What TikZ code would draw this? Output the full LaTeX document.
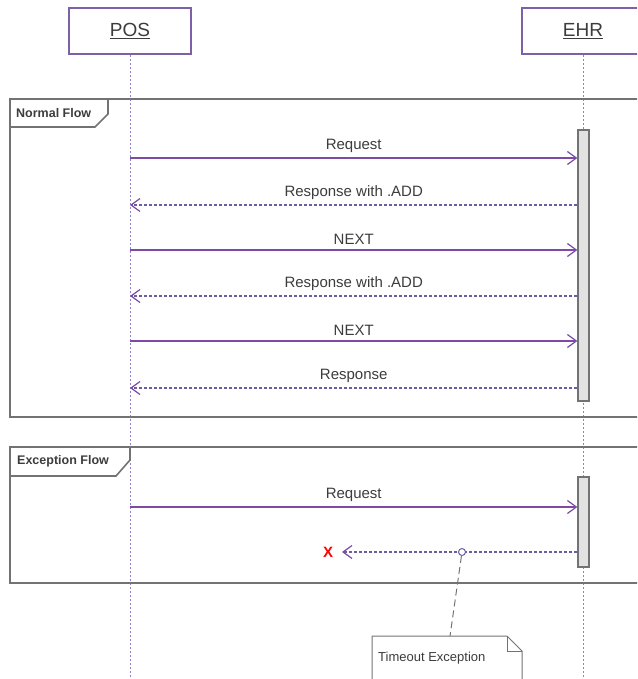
\documentclass[tikz,border=0pt]{standalone}
\usepackage{fontspec}
\setmainfont{Liberation Sans}
\usetikzlibrary{arrows.meta}
\definecolor{lifec}{RGB}{140,130,205}
\definecolor{arrc}{RGB}{125,75,165}
\definecolor{retc}{RGB}{105,95,160}
\definecolor{framec}{RGB}{115,115,115}
\definecolor{hdrc}{RGB}{125,95,170}
\definecolor{txtc}{RGB}{60,60,60}
\definecolor{barfill}{RGB}{226,226,226}
\tikzset{
  hdr/.style={draw=hdrc, line width=1.4pt, fill=white, minimum width=122pt, minimum height=46pt, inner sep=0pt, font=\fontsize{19}{22}\selectfont, text=txtc},
  life/.style={draw=lifec, line width=1pt, dash pattern=on 2pt off 2pt},
  framebox/.style={draw=framec, line width=1.6pt},
  flab/.style={font=\bfseries\fontsize{12.5}{14}\selectfont, text=txtc, anchor=west, inner sep=0pt},
  actbar/.style={draw=framec, line width=1.2pt, fill=barfill, minimum width=11pt, inner sep=0pt},
  tip/.style={-{Straight Barb[length=9pt,width=13pt,line width=1.2pt,color=arrc]}},
  msg/.style={tip, draw=arrc, line width=1.3pt},
  ret/.style={tip, draw=retc, line width=1.2pt, dash pattern=on 3pt off 2pt},
  lbl/.style={font=\fontsize{15}{17}\selectfont, text=txtc, above=4pt, inner sep=1pt},
  notec/.style={draw=framec, line width=1pt}
}
\begin{document}
\begin{tikzpicture}[x=1pt,y=-1pt]
\useasboundingbox (0,0) rectangle (637,679);
\clip (0,0) rectangle (637,679);

% lifelines
\coordinate (posbot) at (130,679);
\coordinate (ehrbot) at (583,679);
\node[hdr] (pos) at (130,31) {\underline{POS}};
\node[hdr] (ehr) at (583,31) {\underline{EHR}};
\draw[life] (pos.south) -- (posbot);
\draw[life] (ehr.south) -- (ehrbot);

% Normal Flow frame
\draw[framebox] (10,99) rectangle (660,417);
\draw[framebox] (10,127) -- (95,127) -- (108,114) -- (108,99);
\node[flab] (nflab) at (16,113) {Normal Flow};

% Exception Flow frame
\draw[framebox] (10,447) rectangle (660,583);
\draw[framebox] (10,476) -- (116,476) -- (130,460) -- (130,447);
\node[flab] (eflab) at (17,461) {Exception Flow};

% activation bars
\node[actbar, minimum height=271pt] (b1) at (583.5,265.5) {};
\node[actbar, minimum height=90pt] (b2) at (583.5,522) {};

% normal flow messages
\coordinate (m1) at (130,158);
\coordinate (m2) at (130,205);
\coordinate (m3) at (130,250);
\coordinate (m4) at (130,296);
\coordinate (m5) at (130,341);
\coordinate (m6) at (130,388);
\draw[msg] (m1) -- (m1 -| b1.west) node[midway,lbl] {Request};
\draw[ret] (m2 -| b1.west) -- (m2) node[midway,lbl] {Response with .ADD};
\draw[msg] (m3) -- (m3 -| b1.west) node[midway,lbl] {NEXT};
\draw[ret] (m4 -| b1.west) -- (m4) node[midway,lbl] {Response with .ADD};
\draw[msg] (m5) -- (m5 -| b1.west) node[midway,lbl] {NEXT};
\draw[ret] (m6 -| b1.west) -- (m6) node[midway,lbl] {Response};

% exception flow messages
\coordinate (e1) at (130,507);
\coordinate (lost) at (342,552);
\draw[msg] (e1) -- (e1 -| b2.west) node[midway,lbl] {Request};
\draw[ret] (lost -| b2.west) -- (lost);
\node[text=red, font=\bfseries\fontsize{15}{17}\selectfont, inner sep=0pt] (xmark) at (328,552) {X};
\node[circle, draw=retc, fill=white, line width=1pt, minimum size=7pt, inner sep=0pt] (evt) at (462,552) {};

% note
\coordinate (notetop) at (450,636);
\draw[notec, dash pattern=on 7pt off 4pt] (evt) -- (notetop);
\draw[notec, fill=white] (372,636) -- (507,636) -- (522,651) -- (522,690) -- (372,690) -- cycle;
\draw[notec] (507,636) -- (507,651) -- (522,651);
\node[font=\fontsize{13}{15}\selectfont, text=txtc, anchor=west, inner sep=0pt] (notetxt) at (378,658) {Timeout Exception};
\end{tikzpicture}
\end{document}
